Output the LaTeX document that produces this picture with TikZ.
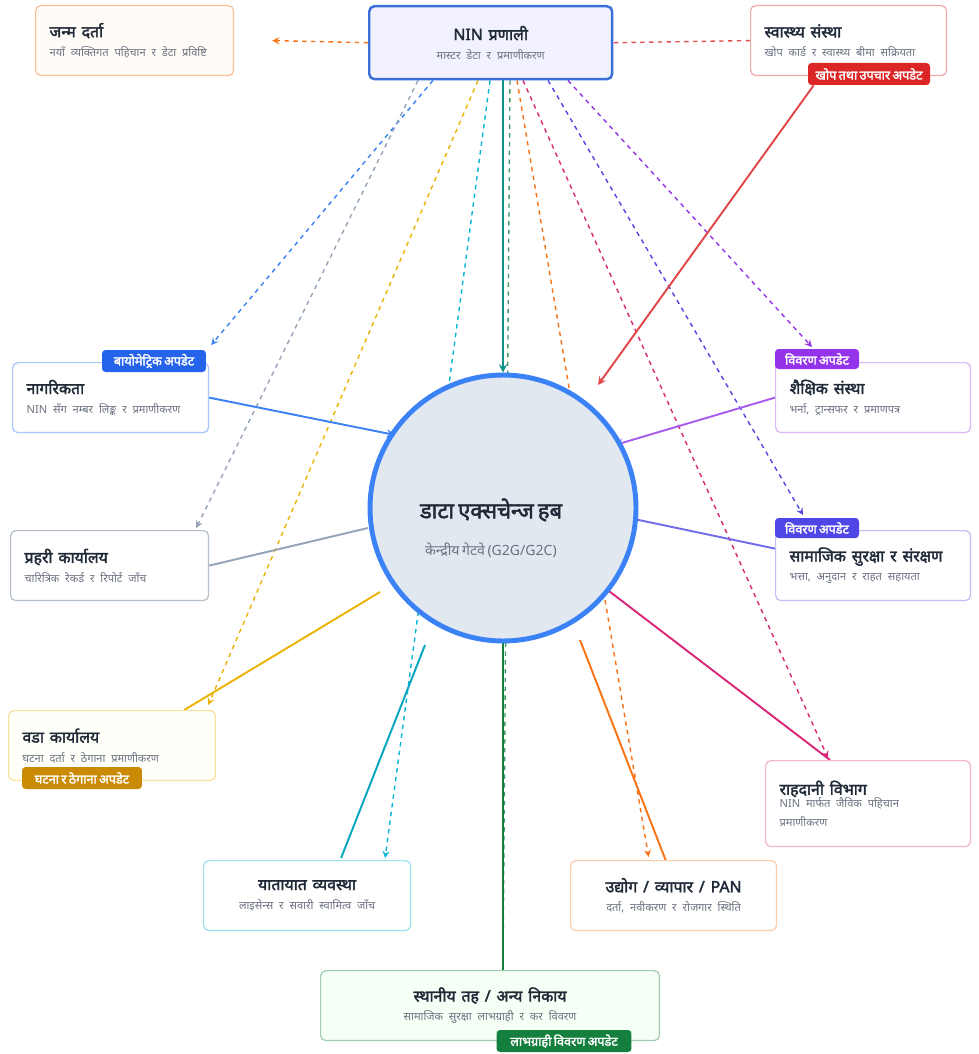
\documentclass[tikz,border=0pt]{standalone}
\usepackage{fontspec}
\setmainfont{Noto Sans}[Script=Devanagari, AutoFakeBold=2.2, WordSpace=0.7]
\usepackage{xcolor}
\usetikzlibrary{calc}

\definecolor{ninblue}{HTML}{3B6FD8}
\definecolor{hubblue}{HTML}{3B82F6}
\definecolor{hubfill}{HTML}{E2E8F0}
\definecolor{badgeblue}{HTML}{2563EB}
\definecolor{purp}{HTML}{9333EA}
\definecolor{indig}{HTML}{4F46E5}
\definecolor{redc}{HTML}{DC2626}
\definecolor{yel}{HTML}{EAB308}
\definecolor{yeldark}{HTML}{CA8A04}
\definecolor{oran}{HTML}{F97316}
\definecolor{pinkc}{HTML}{DB2777}
\definecolor{cyanc}{HTML}{06B6D4}
\definecolor{tealc}{HTML}{0D9488}
\definecolor{greenc}{HTML}{15803D}
\definecolor{grayc}{HTML}{94A3B8}
\definecolor{titlec}{HTML}{1F2937}
\definecolor{subc}{HTML}{6B7280}

\pgfdeclarelayer{bg}
\pgfsetlayers{bg,main}

\newcommand{\cardtxt}[2]{{\fontsize{9}{11}\selectfont\bfseries\color{titlec}#1}\\[-1pt]{\fontsize{6.3}{8}\selectfont\color{subc}#2}}

\tikzset{
  card/.style={draw=#1, rounded corners=3pt, fill=white, line width=0.7pt,
    anchor=north west, minimum height=1.4cm, align=left, inner xsep=0.28cm},
  badge/.style={fill=#1, rounded corners=2pt, text=white, inner sep=0pt,
    font=\fontsize{7.2}{8.5}\selectfont\bfseries, minimum height=0.44cm},
  dline/.style={dashed, dash pattern=on 2.5pt off 2.5pt, line width=0.8pt, ->},
  sline/.style={line width=1.1pt}
}

\begin{document}
\begin{tikzpicture}[x=0.02cm, y=-0.02cm, >=stealth]
  \useasboundingbox (0,0) rectangle (978,1054);

  % top row
  \node[card=oran!45, fill=orange!3, text width=3.4cm] (janma) at (35,5)
    {\cardtxt{जन्म दर्ता}{नयाँ व्यक्तिगत पहिचान र डेटा प्रविष्टि}};
  \node[card=ninblue, line width=1.4pt, fill=blue!5, text width=4.3cm, minimum height=1.46cm, align=center] (nin) at (368,5)
    {\cardtxt{NIN प्रणाली}{मास्टर डेटा र प्रमाणीकरण}};
  \node[card=redc!40, text width=3.36cm] (swasthya) at (750,5)
    {\cardtxt{स्वास्थ्य संस्था}{खोप कार्ड र स्वास्थ्य बीमा सक्रियता}};

  % middle rows
  \node[card=hubblue!45, text width=3.36cm] (nagarik) at (12,362)
    {\cardtxt{नागरिकता}{NIN सँग नम्बर लिङ्क र प्रमाणीकरण}};
  \node[card=purp!35, text width=3.34cm] (shaikshik) at (775,362)
    {\cardtxt{शैक्षिक संस्था}{भर्ना, ट्रान्सफर र प्रमाणपत्र}};
  \node[card=grayc!70, text width=3.4cm] (prahari) at (10,530)
    {\cardtxt{प्रहरी कार्यालय}{चारित्रिक रेकर्ड र रिपोर्ट जाँच}};
  \node[card=indig!35, text width=3.34cm] (samajik) at (775,530)
    {\cardtxt{सामाजिक सुरक्षा र संरक्षण}{भत्ता, अनुदान र राहत सहायता}};
  \node[card=yel!40, fill=yellow!2, text width=3.58cm] (wada) at (8,710)
    {\cardtxt{वडा कार्यालय}{घटना दर्ता र ठेगाना प्रमाणीकरण}};
  \node[card=pinkc!35, text width=3.54cm, minimum height=1.72cm] (rahadani) at (765,760)
    {\cardtxt{राहदानी विभाग}{NIN मार्फत जैविक पहिचान\\[-1pt]प्रमाणीकरण}};

  % bottom row
  \node[card=cyanc!40, text width=3.58cm, align=center] (yatayat) at (203,860)
    {\cardtxt{यातायात व्यवस्था}{लाइसेन्स र सवारी स्वामित्व जाँच}};
  \node[card=oran!35, text width=3.56cm, align=center] (udyog) at (570,860)
    {\cardtxt{उद्योग / व्यापार / PAN}{दर्ता, नवीकरण र रोजगार स्थिति}};
  \node[card=greenc!40, fill=green!4, text width=6.22cm, align=center] (sthaniya) at (320,970)
    {\cardtxt{स्थानीय तह / अन्य निकाय}{सामाजिक सुरक्षा लाभग्राही र कर विवरण}};

  % hub
  \node[circle, draw=hubblue, line width=2.8pt, fill=hubfill, minimum size=5.32cm] (hub) at (503,508) {};
  \node[align=center] (hubtxt) at ($(hub.center)+(-12,20)$)
    {{\fontsize{12.5}{15}\selectfont\bfseries\color{titlec}डाटा एक्सचेन्ज हब}\\[9pt]
     {\fontsize{8}{10}\selectfont\color{subc}केन्द्रीय गेटवे (G2G/G2C)}};

  % badges
  \node[badge=redc, minimum width=2.44cm] (swbadge) at (869,74) {खोप तथा उपचार अपडेट};
  \node[badge=badgeblue, minimum width=2.08cm] (nagbadge) at (154,361) {बायोमेट्रिक अपडेट};
  \node[badge=purp, minimum width=1.68cm, minimum height=0.4cm] (shbadge) at (817,359) {विवरण अपडेट};
  \node[badge=indig, minimum width=1.68cm, minimum height=0.4cm] (smbadge) at (817,528) {विवरण अपडेट};
  \node[badge=yeldark, minimum width=2.4cm] (wdbadge) at (82,778) {घटना र ठेगाना अपडेट};
  \node[badge=greenc, minimum width=2.7cm] (stbadge) at (564,1041) {लाभग्राही विवरण अपडेट};

  \begin{pgfonlayer}{bg}
    % dashed links out of NIN
    \draw[dline, oran] (nin.west) -- ($(janma.east)+(38,0)$);
    \draw[dline, -, redc!80] (swasthya.west) -- (nin.east);
    \draw[dline, hubblue] ($(nin.south west)+(65,0)$) -- ($(nagarik.north east)+(2,-17)$);
    \draw[dline, grayc] ($(nin.south west)+(50,0)$) -- ($(prahari.north east)+(-13,-2)$);
    \draw[dline, yel] ($(nin.south west)+(110,0)$) -- ($(wada.north east)+(-8,-5)$);
    \draw[dline, cyanc] ($(nin.south west)+(122,0)$) -- ($(yatayat.north)+(78,-2)$);
    \draw[dline, -, greenc!80] ($(nin.south west)+(142,0)$) -- ($(hub.south |- sthaniya.north)+(0,-2)$);
    \draw[dline, oran] ($(nin.south west)+(149,0)$) -- ($(udyog.north)+(-25,-3)$);
    \draw[dline, pinkc] ($(nin.south west)+(155,0)$) -- ($(rahadani.north west)+(63,-2)$);
    \draw[dline, indig] ($(nin.south west)+(180,0)$) -- ($(samajik.north west)+(28,-15)$);
    \draw[dline, purp] ($(nin.south west)+(200,0)$) -- ($(shaikshik.north west)+(37,-15)$);

    % solid links to the hub
    \draw[sline, ->, tealc] ($(nin.south west)+(135,0)$) -- (hub.north);
    \draw[sline, ->, redc!85] ($(swbadge.south west)+(6,0)$) -- ($(hub.center)+(95,-123)$);
    \draw[sline, ->, hubblue] (nagarik.east) -- ($(hub.center)+(-108,-73)$);
    \draw[sline, ->, purp!80] (shaikshik.west) -- ($(hub.center)+(112,-63)$);
    \draw[sline, grayc] (prahari.east) -- ($(hub.center)+(-135,20)$);
    \draw[sline, ->, indig!80] ($(samajik.west)+(0,-17)$) -- ($(hub.center)+(112,7)$);
    \draw[sline, yel] ($(wada.north east)+(-32,0)$) -- ($(hub.center)+(-123,84)$);

    % solid links out of the hub
    \draw[sline, cyanc!90!black] ($(hub.center)+(-78,137)$) -- ($(yatayat.north)+(34,-2)$);
    \draw[sline, oran] ($(hub.center)+(77,132)$) -- ($(udyog.north)+(-8,0)$);
    \draw[sline, pinkc] ($(hub.center)+(102,80)$) -- ($(rahadani.north west)+(65,0)$);
    \draw[sline, greenc] (hub.south) -- (hub.south |- sthaniya.north);
  \end{pgfonlayer}
\end{tikzpicture}
\end{document}
